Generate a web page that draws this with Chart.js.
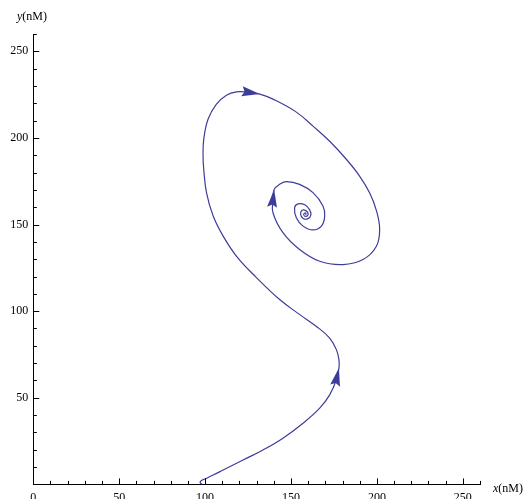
<!DOCTYPE html>
<html>
<head>
<meta charset="utf-8">
<title>Phase-plane trajectory</title>
<script src="https://cdn.jsdelivr.net/npm/chart.js@4/dist/chart.umd.min.js"></script>
<style>
  html, body { margin: 0; padding: 0; background: #fff; }
  #wrap { width: 527px; height: 499px; }
</style>
</head>
<body>
<div id="wrap"><canvas id="c" width="527" height="499"></canvas></div>
<script>
// Trajectory in the (x, y) concentration plane, both in nM.
const trajX = [
  98.5, 97.2, 97.5, 99.8, 104.7, 110.5, 122.1, 133.7, 145.3, 157.0,
  166.7, 172.5, 176.4, 177.9, 177.9, 176.4, 172.5, 164.8, 155.1, 143.4,
  129.9, 118.3, 110.5, 104.7, 100.8, 99.2, 98.8, 99.2, 101.7, 106.6,
  112.4, 118.3, 124.8, 131.8, 139.5, 153.1, 162.8, 172.5, 182.2, 189.9,
  195.8, 199.8, 201.6, 199.7, 191.9, 180.2, 166.7, 155.0, 145.3, 139.5,
  139.5, 140.2, 143.4, 147.3, 155.0, 162.8, 168.6, 169.6, 167.7, 162.8,
  157.0, 153.1, 152.1, 154.1, 158.0, 160.9, 161.5, 159.7, 157.1, 155.6,
  156.5, 158.8, 160.0, 158.8, 157.4, 158.0, 158.8, 158.3
];
const trajY = [
  0.0, 0.8, 2.0, 3.1, 5.4, 8.3, 14.1, 19.9, 26.7, 35.3,
  44.0, 51.7, 60.4, 67.2, 72.0, 77.8, 84.5, 91.2, 98.0, 106.7,
  119.4, 131.7, 143.3, 154.9, 168.4, 181.9, 189.6, 199.2, 210.8, 219.5,
  224.7, 226.6, 226.4, 225.3, 222.4, 214.9, 206.8, 198.1, 187.7, 178.0,
  168.2, 157.8, 147.2, 137.5, 129.8, 126.9, 128.8, 135.6, 145.3, 156.8,
  164.5, 170.3, 173.2, 174.8, 173.2, 168.4, 160.7, 154.7, 149.1, 146.9,
  149.1, 153.9, 159.7, 161.9, 161.4, 158.5, 155.3, 153.3, 153.5, 155.9,
  158.2, 157.9, 156.1, 154.7, 155.6, 156.7, 156.1, 155.9
];
// Points along the trajectory where a direction arrowhead sits (tip index).
const arrowAt = [13, 33, 51];

// Axis settings
const axisMax = 260;
const majorStep = 50;
const minorStep = 10;

const lineColor = 'rgb(61,61,153)';
const serif = "'Liberation Serif', 'Times New Roman', serif";

const points = trajX.map((v, i) => ({ x: v, y: trajY[i] }));

// Inward tick marks, arrowheads and axis captions.
const decorations = {
  id: 'decorations',
  afterDatasetsDraw(chart) {
    const ctx = chart.ctx;
    const meta = chart.getDatasetMeta(0);
    ctx.save();
    ctx.fillStyle = lineColor;
    arrowAt.forEach(i => {
      const tip = meta.data[i];
      const prev = meta.data[i - 1];
      const a = Math.atan2(tip.y - prev.y, tip.x - prev.x);
      const len = 18, hw = 5;
      const c = Math.cos(a), s = Math.sin(a);
      ctx.beginPath();
      ctx.moveTo(tip.x, tip.y);
      ctx.lineTo(tip.x - len * c + hw * s, tip.y - len * s - hw * c);
      ctx.lineTo(tip.x - len * 0.85 * c, tip.y - len * 0.85 * s);
      ctx.lineTo(tip.x - len * c - hw * s, tip.y - len * s + hw * c);
      ctx.closePath();
      ctx.fill();
    });
    ctx.restore();
  },
  afterDraw(chart) {
    const { ctx, chartArea, scales } = chart;
    const xs = scales.x, ys = scales.y;
    ctx.save();
    ctx.strokeStyle = '#000';
    ctx.lineWidth = 1;
    ctx.beginPath();
    for (let v = 0; v <= axisMax; v += minorStep) {
      const len = v % majorStep === 0 ? 6 : 3.5;
      const px = Math.round(xs.getPixelForValue(v)) + 0.5;
      ctx.moveTo(px, chartArea.bottom);
      ctx.lineTo(px, chartArea.bottom - len);
      const py = Math.round(ys.getPixelForValue(v)) + 0.5;
      ctx.moveTo(chartArea.left, py);
      ctx.lineTo(chartArea.left + len, py);
    }
    ctx.stroke();

    ctx.fillStyle = '#000';
    ctx.textBaseline = 'alphabetic';
    const caption = (x, y, v) => {
      ctx.font = 'italic 12px ' + serif;
      ctx.fillText(v, x, y);
      const w = ctx.measureText(v).width;
      ctx.font = '12px ' + serif;
      ctx.fillText('(nM)', x + w, y);
    };
    caption(17, 20, 'y');
    caption(chartArea.right + 13, chartArea.bottom + 8, 'x');
    ctx.restore();
  }
};

new Chart(document.getElementById('c'), {
  type: 'scatter',
  data: {
    datasets: [{
      data: points,
      showLine: true,
      borderColor: lineColor,
      borderWidth: 1.2,
      pointRadius: 0,
      tension: 0.4,
      fill: false
    }]
  },
  options: {
    responsive: false,
    animation: false,
    plugins: { legend: { display: false }, tooltip: { enabled: false } },
    layout: { padding: { top: 34, right: 47, left: 0, bottom: 0 } },
    scales: {
      x: {
        type: 'linear',
        min: 0, max: axisMax,
        grid: { display: false, drawTicks: false },
        border: { display: true, color: '#000', width: 1 },
        afterFit: s => { s.height = 14.6; },
        ticks: {
          stepSize: majorStep,
          includeBounds: false,
          autoSkip: false,
          maxRotation: 0,
          padding: 6,
          color: '#000',
          font: { family: serif, size: 12 },
          callback: v => (v % majorStep === 0 ? String(v) : null)
        }
      },
      y: {
        type: 'linear',
        min: 0, max: axisMax,
        grid: { display: false, drawTicks: false },
        border: { display: true, color: '#000', width: 1 },
        afterFit: s => { s.width = 33.3; },
        ticks: {
          stepSize: majorStep,
          includeBounds: false,
          autoSkip: false,
          padding: 5,
          color: '#000',
          font: { family: serif, size: 12 },
          callback: v => (v % majorStep === 0 && v !== 0 ? String(v) : null)
        }
      }
    }
  },
  plugins: [decorations]
});
</script>
</body>
</html>
